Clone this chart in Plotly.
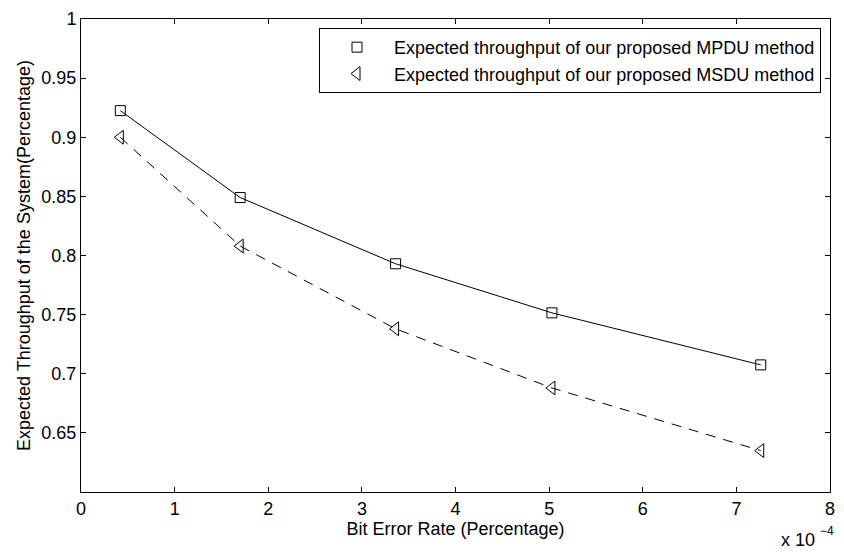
import plotly.graph_objects as go

# Data (x in units of 1e-4)
ber = [0.42, 1.70, 3.36, 5.03, 7.26]
mpdu = [0.9225, 0.849, 0.793, 0.7515, 0.7075]
msdu = [0.900, 0.808, 0.738, 0.688, 0.635]
x_ticks = [0, 1, 2, 3, 4, 5, 6, 7, 8]
y_ticks = [0.65, 0.7, 0.75, 0.8, 0.85, 0.9, 0.95, 1.0]
y_ticklabels = ["0.65", "0.7", "0.75", "0.8", "0.85", "0.9", "0.95", "1"]
names = ["Expected throughput of our proposed MPDU method",
         "Expected throughput of our proposed MSDU method"]

FONT = "Liberation Sans, Arial, Helvetica, sans-serif"
FS = 18

fig = go.Figure()
# lines (no legend)
fig.add_trace(go.Scatter(x=ber, y=mpdu, mode="lines",
                         line=dict(color="black", width=1), showlegend=False,
                         hoverinfo="skip"))
fig.add_trace(go.Scatter(x=ber, y=msdu, mode="lines",
                         line=dict(color="black", width=1, dash="10px,8px"),
                         showlegend=False, hoverinfo="skip"))
# markers (legend)
fig.add_trace(go.Scatter(x=ber, y=mpdu, mode="markers", name=names[0],
                         marker=dict(symbol="square-open", size=10, color="black",
                                     line=dict(width=1, color="black"))))
fig.add_trace(go.Scatter(x=ber, y=msdu, mode="markers", name=names[1],
                         marker=dict(symbol="triangle-left-open", size=12, color="black",
                                     line=dict(width=1, color="black"))))

axis_common = dict(showgrid=False, zeroline=False, showline=True, linecolor="black",
                   linewidth=1, mirror="ticks", ticks="inside", ticklen=5,
                   tickcolor="black", tickwidth=1,
                   tickfont=dict(family=FONT, size=FS, color="black"))

fig.update_xaxes(range=[0, 8], tickvals=x_ticks,
                 ticktext=[str(v) for v in x_ticks],
                 title=dict(text="Bit Error Rate (Percentage)",
                            font=dict(family=FONT, size=FS, color="black"),
                            standoff=1),
                 **axis_common)
fig.update_yaxes(range=[0.6, 1.0], tickvals=y_ticks, ticktext=y_ticklabels,
                 title=dict(text="Expected Throughput of the System(Percentage)",
                            font=dict(family=FONT, size=FS, color="black"),
                            standoff=6),
                 **axis_common)

# exponent label "x 10^-4" at lower right
fig.add_annotation(xref="paper", yref="paper", x=0.9828, y=0, xanchor="right",
                   yanchor="middle", yshift=-48, showarrow=False,
                   text="x 10", font=dict(family=FONT, size=FS, color="black"))
fig.add_annotation(xref="paper", yref="paper", x=0.9841, y=0, xanchor="left",
                   yanchor="middle", yshift=-39, showarrow=False,
                   text="−4", font=dict(family=FONT, size=12, color="black"))

fig.update_layout(
    width=844, height=552,
    margin=dict(l=81, r=9, t=13, b=60),
    plot_bgcolor="white", paper_bgcolor="white",
    font=dict(family=FONT, size=FS, color="black"),
    legend=dict(x=0.988, y=0.981, xanchor="right", yanchor="top",
                bgcolor="white", bordercolor="black", borderwidth=1,
                font=dict(family=FONT, size=FS, color="black"),
                itemwidth=64, tracegroupgap=0),
)

fig.write_html("out.html",
               config={"displayModeBar": False},
               post_script="document.body.style.margin='0';document.body.style.overflow='hidden';")
